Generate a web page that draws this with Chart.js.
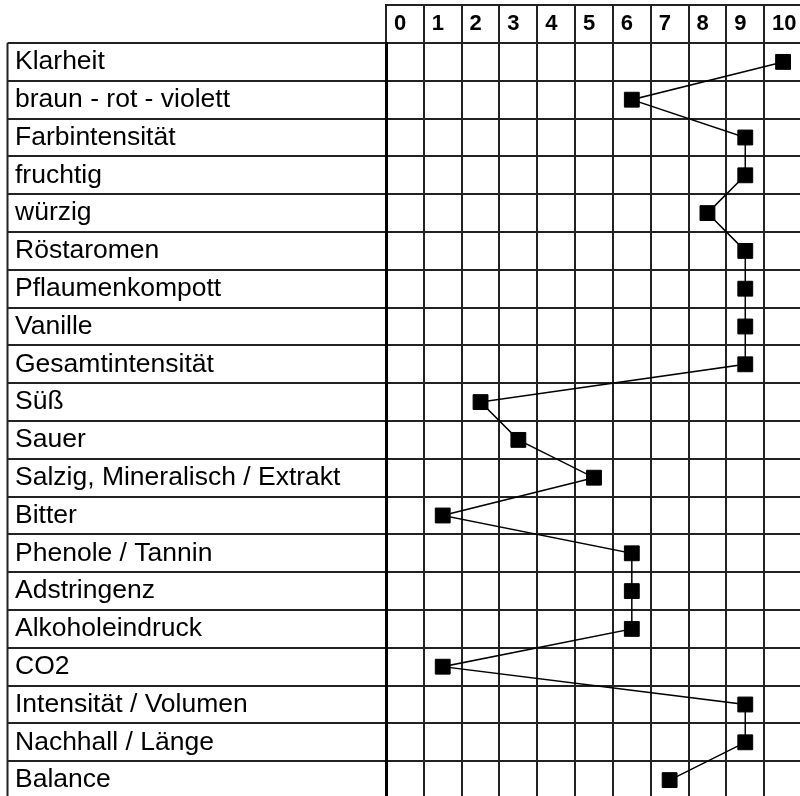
<!DOCTYPE html>
<html>
<head>
<meta charset="utf-8">
<script src="https://cdn.jsdelivr.net/npm/chart.js@4"></script>
<style>
  html, body { margin: 0; padding: 0; background: #fff; overflow: hidden; width: 800px; height: 796px; }
  #wrap { position: absolute; left: 0; top: 0; width: 802px; height: 800px; }
</style>
</head>
<body>
<div id="wrap">
  <canvas id="profileChart" width="802" height="800"></canvas>
</div>
<script>
// scale 0 - 10 across the top
const scoreLabels = ["0", "1", "2", "3", "4", "5", "6", "7", "8", "9", "10"];

// tasting attributes, top to bottom
const attributes = [
  "Klarheit",
  "braun - rot - violett",
  "Farbintensität",
  "fruchtig",
  "würzig",
  "Röstaromen",
  "Pflaumenkompott",
  "Vanille",
  "Gesamtintensität",
  "Süß",
  "Sauer",
  "Salzig, Mineralisch / Extrakt",
  "Bitter",
  "Phenole / Tannin",
  "Adstringenz",
  "Alkoholeindruck",
  "CO2",
  "Intensität / Volumen",
  "Nachhall / Länge",
  "Balance"
];

const scores = [10, 6, 9, 9, 8, 9, 9, 9, 9, 2, 3, 5, 1, 6, 6, 6, 1, 9, 9, 7];

const gridColor = "#222";
const fontFamily = "'Liberation Sans', Arial, sans-serif";

// outer lines of the table that are not part of any axis
const tableFrame = {
  id: "tableFrame",
  afterDraw(chart) {
    const { ctx, chartArea, scales } = chart;
    const labelLeft = chartArea.left - scales.y.options.grid.tickLength;
    const headerTop = chartArea.top - scales.x.options.grid.tickLength;
    ctx.save();
    ctx.strokeStyle = gridColor;
    ctx.lineWidth = 2;
    ctx.beginPath();
    ctx.moveTo(labelLeft, chartArea.top);
    ctx.lineTo(labelLeft, chartArea.bottom);
    ctx.moveTo(chartArea.left - 1, headerTop);
    ctx.lineTo(chartArea.right, headerTop);
    ctx.stroke();
    ctx.restore();
  }
};

// no extra room for overhanging tick labels, the table fills the canvas
function noLabelPadding(scale) {
  scale.paddingLeft = 0;
  scale.paddingRight = 0;
  scale.paddingTop = 0;
  scale.paddingBottom = 0;
}

const ctx = document.getElementById("profileChart");

new Chart(ctx, {
  type: "line",
  data: {
    datasets: [
      {
        label: "Profil",
        data: scores.map((v, i) => ({ x: String(v), y: attributes[i] })),
        borderColor: "#000",
        borderWidth: 1.5,
        tension: 0,
        fill: false,
        pointStyle: "rect",
        pointRadius: 10.5,
        pointBackgroundColor: "#000",
        pointBorderColor: "#000",
        pointBorderWidth: 1,
        clip: false
      }
    ]
  },
  options: {
    responsive: false,
    animation: false,
    devicePixelRatio: 1,
    layout: {
      autoPadding: false,
      padding: { top: 5, left: 15, right: 0, bottom: 1 }
    },
    scales: {
      x: {
        type: "category",
        labels: scoreLabels,
        position: "top",
        offset: true,
        grid: {
          offset: true,
          color: gridColor,
          lineWidth: 2,
          tickLength: 38
        },
        border: { display: true, color: gridColor, width: 2 },
        ticks: {
          autoSkip: false,
          maxRotation: 0,
          minRotation: 0,
          align: "start",
          labelOffset: -11,
          padding: -32,
          color: "#000",
          font: { family: fontFamily, size: 22, weight: "bold" }
        },
        afterFit(scale) {
          scale.height = 38;
          noLabelPadding(scale);
        }
      },
      y: {
        type: "category",
        labels: attributes,
        position: "left",
        offset: true,
        grid: {
          offset: true,
          color: gridColor,
          lineWidth: 2,
          tickLength: 378.5
        },
        border: { display: true, color: "#000", width: 3 },
        ticks: {
          autoSkip: false,
          crossAlign: "far",
          color: "#000",
          font: { family: fontFamily, size: 26.5 }
        },
        afterFit(scale) {
          scale.width = 371;
          noLabelPadding(scale);
        }
      }
    },
    plugins: {
      legend: { display: false },
      tooltip: { enabled: false }
    }
  },
  plugins: [tableFrame]
});
</script>
</body>
</html>
